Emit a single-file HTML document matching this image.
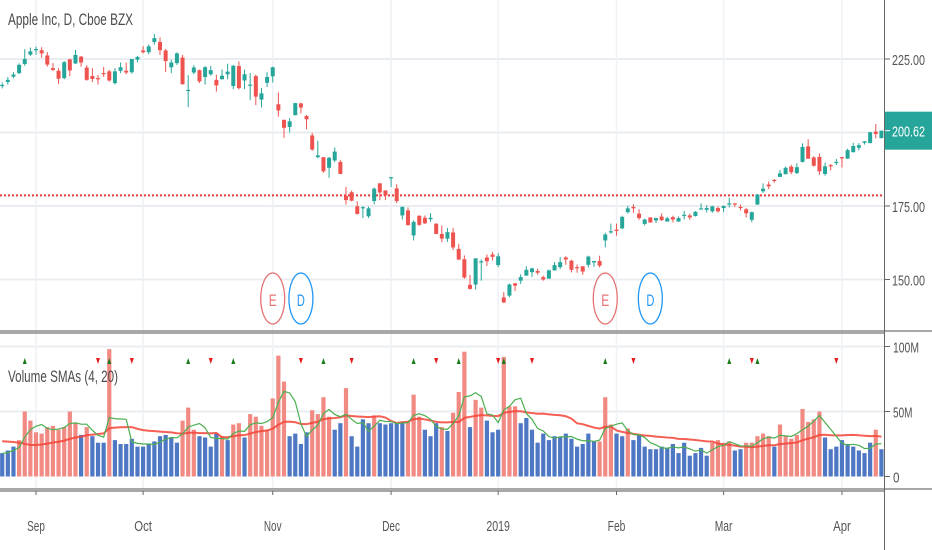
<!DOCTYPE html>
<html><head><meta charset="utf-8"><style>
html,body{margin:0;padding:0;background:#fff;}
svg{display:block;font-family:"Liberation Sans",sans-serif;}
</style></head><body>
<svg id="chart" width="932" height="550" viewBox="0 0 932 550" xmlns="http://www.w3.org/2000/svg">
<defs>
<clipPath id="mainClip"><rect x="0" y="0" width="884" height="330"/></clipPath>
<clipPath id="volClip"><rect x="0" y="334" width="884" height="155"/></clipPath>
</defs>
<g id="grid"></g>
<g id="candles" clip-path="url(#mainClip)"></g>
<g id="vol" clip-path="url(#volClip)"></g>
<g id="axes"></g>
<text x="8" y="25" font-size="17" fill="#4a4a4a" textLength="125" lengthAdjust="spacingAndGlyphs">Apple Inc, D, Cboe BZX</text>
<text x="8" y="382" font-size="17" fill="#4a4a4a" textLength="110" lengthAdjust="spacingAndGlyphs">Volume SMAs (4, 20)</text>
</svg>
<script>
const opens=[215.9,217.2,219.0,220.2,223.3,226.5,228.4,228.0,226.2,221.9,221.0,218.5,224.9,223.5,225.8,222.1,219.2,218.5,220.2,220.8,216.8,221.0,221.0,220.5,224.8,227.9,227.3,230.8,230.8,227.9,222.2,223.6,225.5,214.5,220.4,221.2,218.9,219.8,217.9,218.1,219.8,215.8,222.6,217.7,215.9,219.2,211.2,216.9,219.1,209.6,204.3,201.9,205.9,209.9,205.6,199.0,191.6,191.6,188.0,190.5,190.0,178.4,179.7,174.9,174.2,171.5,176.7,182.7,180.3,184.5,181.0,171.8,173.5,165.0,171.7,171.0,170.5,169.0,165.5,163.9,166.0,160.4,156.9,148.2,148.3,155.8,157.5,158.5,154.9,143.9,144.5,148.7,149.6,151.3,152.5,152.9,150.8,150.3,153.1,154.2,157.5,156.4,154.2,154.5,155.0,155.8,156.3,163.3,166.0,166.96,167.4,172.9,174.7,172.4,168.9,171.1,170.1,171.4,169.7,171.2,169.7,171.6,171.8,171.6,174.2,173.7,173.2,174.3,174.3,175.7,175.9,174.7,173.9,170.3,175.5,180.0,182.3,183.9,184.9,185.8,188.4,186.2,190.0,195.3,191.5,191.7,185.9,188.9,189.8,191.6,191.1,193.3,194.8,196.5,196.4,200.3,198.1];
const closes=[216.2,217.9,219.7,223.0,225.0,227.6,228.4,226.9,223.1,221.3,218.3,223.9,221.1,226.4,223.8,217.9,218.2,218.4,220.0,217.7,220.8,222.2,220.4,225.0,225.7,227.3,229.3,232.1,228.0,224.3,223.8,226.9,216.4,214.5,222.1,217.4,222.2,221.2,216.0,219.3,220.7,222.7,215.1,219.8,216.3,212.2,213.3,218.9,222.2,207.5,201.6,203.8,210.0,208.5,204.5,194.2,192.2,186.8,191.4,193.5,185.9,177.0,176.8,172.3,174.6,174.2,180.9,179.6,178.6,184.8,176.7,174.7,168.5,169.6,168.6,169.1,171.0,165.5,163.9,166.1,160.9,156.8,150.7,146.8,157.2,156.2,156.2,157.7,157.9,142.2,148.3,147.9,150.8,153.3,153.8,152.3,150.0,153.1,154.9,155.9,156.8,153.3,153.9,152.7,157.8,156.3,154.7,165.3,166.4,166.5,171.3,174.2,174.2,170.9,170.4,169.4,170.9,170.2,170.8,170.4,170.9,172.0,171.1,173.0,174.2,174.3,174.9,173.2,175.0,175.9,175.5,174.5,172.5,172.9,178.9,180.9,181.7,183.7,186.1,188.0,186.5,188.2,195.1,191.1,188.7,186.8,188.5,188.7,190.0,191.2,194.0,195.4,195.7,197.0,200.1,199.5,200.6];
const highs=[217.0,218.9,220.5,223.5,228.3,228.9,229.2,229.0,227.4,223.6,221.9,224.3,225.0,228.1,226.0,222.9,221.9,219.6,222.3,221.3,221.9,223.8,223.8,225.0,226.0,229.4,230.0,233.5,232.4,228.4,224.8,227.3,226.4,219.5,222.9,221.4,222.6,222.6,219.7,221.4,223.4,223.0,224.2,221.4,220.2,219.7,215.2,220.5,222.4,213.6,204.4,204.9,210.1,210.1,206.0,199.9,197.2,191.6,191.7,194.9,190.7,181.5,180.3,176.6,174.9,174.8,181.3,182.8,180.3,184.9,182.4,174.8,174.5,170.1,171.8,171.8,172.6,169.1,168.4,167.5,167.5,162.1,158.2,151.6,157.2,156.8,158.5,159.4,158.9,145.7,148.6,148.8,151.8,154.5,154.0,153.7,151.3,153.4,155.9,157.7,157.9,156.7,155.1,154.5,158.1,156.3,158.1,165.9,169.0,169.0,171.7,175.1,175.6,173.9,170.7,171.2,171.0,172.5,171.3,171.7,171.4,173.3,172.4,173.3,175.9,175.3,175.1,174.9,175.2,177.8,176.0,175.5,174.4,173.1,179.1,182.7,183.3,184.1,187.3,188.4,189.0,189.5,196.3,197.7,192.0,192.9,189.8,189.3,191.0,191.7,194.5,196.5,196.4,197.1,200.2,202.9,200.7];
const lows=[215.0,216.3,218.5,219.9,222.7,226.0,226.5,225.4,222.4,220.9,216.5,218.1,219.2,223.3,222.4,217.6,217.2,216.3,218.9,217.3,216.3,220.2,219.8,220.0,223.9,226.9,226.6,229.9,226.4,220.6,220.2,223.0,216.3,208.6,219.8,216.8,216.3,219.3,213.9,218.0,218.1,214.7,214.6,214.8,211.0,209.3,208.5,215.5,217.0,205.4,198.2,200.0,205.8,206.5,201.1,193.8,191.3,186.3,184.6,189.9,185.8,175.5,176.6,172.1,170.9,170.9,175.6,177.0,177.0,181.5,176.0,170.4,168.3,163.3,168.3,168.9,169.6,165.4,162.7,162.8,160.0,156.6,150.2,146.6,146.6,149.6,154.6,156.5,154.2,142.0,144.0,146.1,148.5,151.5,150.9,151.6,149.6,150.3,153.0,153.6,155.0,152.4,152.3,151.6,154.1,154.3,154.1,160.9,165.6,164.9,167.1,172.4,172.7,170.3,168.4,169.3,169.2,169.9,169.7,169.4,169.6,170.4,170.3,171.4,173.9,172.8,172.7,172.8,172.9,174.5,174.6,173.5,171.1,169.5,175.4,179.4,180.7,182.9,184.9,185.8,185.8,185.9,189.8,191.0,188.4,185.6,185.3,187.1,188.9,188.1,191.0,193.2,193.9,195.9,196.3,198.0,198.0];
const volumes=[18,20,23,28,50,43,34,33,38,39,36,38,50,41,32,38,31,26,26,98,28,25,25,29,23,23,25,27,31,32,30,26,43,53,36,31,30,23,33,31,28,40,41,30,48,46,39,36,60,93,73,31,33,25,34,51,48,61,46,36,41,68,31,23,44,41,47,41,40,41,41,42,42,63,46,36,31,41,38,35,49,65,96,38,59,53,43,34,36,92,54,54,41,45,36,26,33,28,31,30,33,29,23,25,33,27,27,61,40,33,31,37,28,32,23,21,21,23,22,25,18,26,16,18,22,16,26,28,26,27,20,21,26,26,31,33,31,23,40,31,29,32,52,42,44,50,30,21,23,28,25,23,20,18,26,36,21];
const volumeWarmup=[25,29,39,67,62,33,26,25,22,24,20,23,20,18,18,20,17,17,19];
const volumeHot="bbbrrrrrrr"+"rrrrbrbbbr"+"bbbbbbbbbb"+"bbrrrbbbbr"+"brrbrrrrrr"+"rbbbbrrrrb"+"brbbbbrbbb"+"bbrrrbbbrb"+"rrrbrrbbbr"+"rrbbbbbbbb"+"bbbbbbrrrb"+"brbbbbbbbb"+"bbbbbbrrrr"+"bbrrrrrbrr"+"rrrrrrbbbb"+"bbbbbrb";
const signalUp=[4,19,33,41,57,73,81,89,107,129,134];
const signalDown=[17,23,37,53,62,77,88,94,112,133,148];
const priceTicks=[225,175,150];
const priceTickLabels=["225.00","175.00","150.00"];
const volTicks=[100,50,0];
const volTickLabels=["100M","50M","0"];
const monthIdx=[6,25,48,69,88,109,128,149];
const monthLabels=["Sep","Oct","Nov","Dec","2019","Feb","Mar","Apr"];
const lastPrice=200.62;
const refLevel=178.6;
const eventIdx=[48,53,107,115];
const eventKinds=["E","D","E","D"];

const NS="http://www.w3.org/2000/svg";
const xOf=i=>2.2+i*5.636;
const pY=p=>59+(225-p)*2.94;
const vY=v=>476.5-v*1.3;
function mk(tag,attrs,parent){const e=document.createElementNS(NS,tag);for(const k in attrs)e.setAttribute(k,attrs[k]);parent.appendChild(e);return e;}
const grid=document.getElementById('grid'),cg=document.getElementById('candles'),vg=document.getElementById('vol'),ax=document.getElementById('axes');

priceTicks.concat([200]).forEach(p=>{const l=mk('line',{x1:0,x2:884,y1:pY(p),y2:pY(p),stroke:'#e9edf2','stroke-width':2},grid);

});
volTicks.slice(0,2).forEach(v=>{const l=mk('line',{x1:0,x2:884,y1:vY(v),y2:vY(v),stroke:'#e9edf2','stroke-width':2},grid);

});
monthIdx.forEach(i=>{const l=mk('line',{x1:xOf(i),x2:xOf(i),y1:0,y2:489,stroke:'#eef1f5','stroke-width':1.5},grid);

});

const ref=mk('line',{x1:0,x2:884,y1:pY(refLevel),y2:pY(refLevel),stroke:'#e53935','stroke-width':2,'stroke-dasharray':'2 2'},cg);



closes.forEach((c,i)=>{const o=opens[i],up=c>=o,col=up?'#26a69a':'#ef5350',x=xOf(i);
const g=mk('g',{},cg);


mk('line',{x1:x,x2:x,y1:pY(highs[i]),y2:pY(lows[i]),stroke:col,'stroke-width':1},g);
const top=pY(Math.max(o,c)),bot=pY(Math.min(o,c));
mk('rect',{x:x-2,y:top,width:4,height:Math.max(1.2,bot-top),fill:col},g);});

eventIdx.forEach((i,k)=>{const col=eventKinds[k]==='E'?'#e57373':'#2196f3';const g=mk('g',{},cg);


mk('ellipse',{cx:xOf(i),cy:298.5,rx:12,ry:25.5,fill:'#fff',stroke:col,'stroke-width':1.3},g);
const t=mk('text',{x:xOf(i),y:306,'font-size':17,fill:col,'text-anchor':'middle',textLength:8,lengthAdjust:'spacingAndGlyphs'},g);t.textContent=eventKinds[k];});

volumes.forEach((v,i)=>{const r=mk('rect',{x:xOf(i)-2.1,y:vY(v),width:4.2,height:vY(0)-vY(v),fill:volumeHot[i]==='r'?'#f28a84':'#4f78c4'},vg);

});

const full=volumeWarmup.concat(volumes),off=volumeWarmup.length;
function sma(n){return volumes.map((_,i)=>{let s=0;for(let k=0;k<n;k++)s+=full[off+i-k];return s/n;});}
const s4=sma(4),s20=sma(20);
const l20=mk('polyline',{points:s20.map((v,i)=>xOf(i)+','+vY(v)).join(' '),fill:'none',stroke:'#f44336','stroke-width':2,'stroke-opacity':0.85},vg);


const l4=mk('polyline',{points:s4.map((v,i)=>xOf(i)+','+vY(v)).join(' '),fill:'none',stroke:'#4caf50','stroke-width':1.2},vg);


signalUp.forEach(i=>{const x=xOf(i);const p=mk('polygon',{points:`${x-2},364 ${x+2},364 ${x},358`,fill:'#1b7a1b'},vg);

});
signalDown.forEach(i=>{const x=xOf(i);const p=mk('polygon',{points:`${x-2},358 ${x+2},358 ${x},364`,fill:'#e31b1b'},vg);

});

[[0,331,932,331],[0,333,884,333],[0,489,932,489],[0,491,884,491]].forEach(a=>{const l=mk('line',{x1:a[0],y1:a[1],x2:a[2],y2:a[3],stroke:'#8c8c8c','stroke-width':1.4},ax);

});
const ya=mk('line',{x1:884.5,x2:884.5,y1:0,y2:550,stroke:'#666','stroke-width':1},ax);


priceTicks.forEach((p,k)=>{mk('line',{x1:885,x2:890,y1:pY(p),y2:pY(p),stroke:'#666'},ax);
const t=mk('text',{x:892,y:pY(p)+6,'font-size':15,fill:'#555',textLength:33,lengthAdjust:'spacingAndGlyphs'},ax);t.textContent=priceTickLabels[k];

});
volTicks.forEach((v,k)=>{mk('line',{x1:885,x2:890,y1:vY(v),y2:vY(v),stroke:'#666'},ax);
const t=mk('text',{x:893,y:vY(v)+6,'font-size':15,fill:'#555',textLength:volTickLabels[k].length*6.5,lengthAdjust:'spacingAndGlyphs'},ax);t.textContent=volTickLabels[k];

});
monthIdx.forEach((i,k)=>{mk('line',{x1:xOf(i),x2:xOf(i),y1:491,y2:495,stroke:'#666'},ax);
const t=mk('text',{x:xOf(i),y:531,'font-size':15,fill:'#555','text-anchor':'middle',textLength:monthLabels[k].length*5.9,lengthAdjust:'spacingAndGlyphs'},ax);t.textContent=monthLabels[k];

});
const lpY=pY(lastPrice);
const bx=mk('rect',{x:885,y:lpY-19,width:47,height:38,fill:'#26a69a'},ax);


mk('line',{x1:885,x2:890,y1:lpY,y2:lpY,stroke:'#fff'},ax);
const lt=mk('text',{x:892,y:lpY+6,'font-size':15,fill:'#fff',textLength:33,lengthAdjust:'spacingAndGlyphs'},ax);lt.textContent=lastPrice.toFixed(2);


</script>
</body></html>
